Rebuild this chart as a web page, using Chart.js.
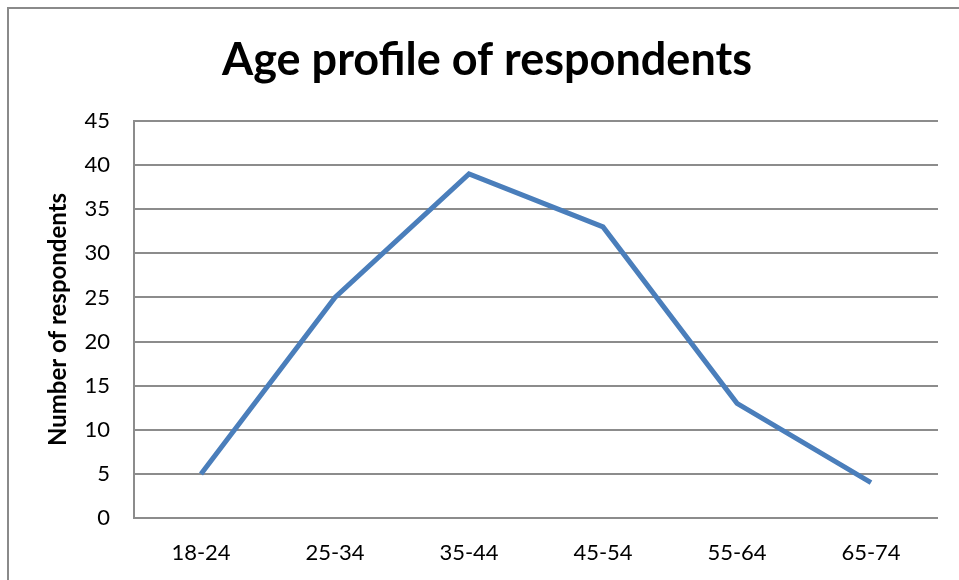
<!DOCTYPE html>
<html>
<head>
<meta charset="utf-8">
<script src="https://cdn.jsdelivr.net/npm/chart.js@4"></script>
<style>
    html, body { margin: 0; padding: 0; background: #fff; }
    #wrap { position: relative; width: 959px; height: 580px; }
    #frame {
        position: absolute; left: 7px; top: 7px; width: 960px; height: 580px;
        border-left: 2px solid #8a8a8a; border-top: 2px solid #8a8a8a;
    }
    canvas { position: absolute; left: 0; top: 0; }
</style>
</head>
<body>
<div id="wrap">
    <div id="frame"></div>
    <canvas id="myChart" width="959" height="580"></canvas>
</div>
<script>
// faixas etarias e contagem
let faixas = ['18-24', '25-34', '35-44', '45-54', '55-64', '65-74']
let respondentes = [5, 25, 39, 33, 13, 4]
let eixoY = { min: 0, max: 45, passo: 5 }

let fonte = 'Lato, "Open Sans", sans-serif'
let cinza = '#8c8c8c'

const ctx = document.getElementById('myChart')

new Chart(ctx, {
    type: 'line',
    data: {
        labels: faixas,
        datasets: [{
            data: respondentes,
            borderColor: '#4a7ebb',
            borderWidth: 5,
            pointRadius: 0,
            tension: 0,
            fill: false
        }]
    },
    options: {
        responsive: false,
        animation: false,
        layout: { padding: { left: 36, right: 21, top: 0, bottom: 0 } },
        scales: {
            x: {
                offset: true,
                grid: { display: false, drawTicks: false },
                border: { display: false },
                ticks: { color: '#000', padding: 22, font: { family: fonte, size: 22 } },
                afterFit: (scale) => { scale.height = 62 }
            },
            y: {
                min: eixoY.min,
                max: eixoY.max,
                ticks: { stepSize: eixoY.passo, color: '#000', padding: 24, font: { family: fonte, size: 22 } },
                grid: { color: cinza, lineWidth: 2, drawTicks: false },
                border: { color: cinza, width: 2 },
                title: {
                    display: true,
                    text: 'Number of respondents',
                    color: '#000',
                    font: { family: fonte, size: 24, weight: 'bold' },
                    padding: { top: 8, bottom: 0 }
                },
                afterFit: (scale) => { scale.width = 98 }
            }
        },
        plugins: {
            legend: { display: false },
            tooltip: { enabled: false },
            title: {
                display: true,
                text: 'Age profile of respondents',
                color: '#000',
                font: { family: fonte, size: 45, weight: 'bold' },
                padding: { top: 33, bottom: 34 }
            }
        }
    }
});
</script>
</body>
</html>
